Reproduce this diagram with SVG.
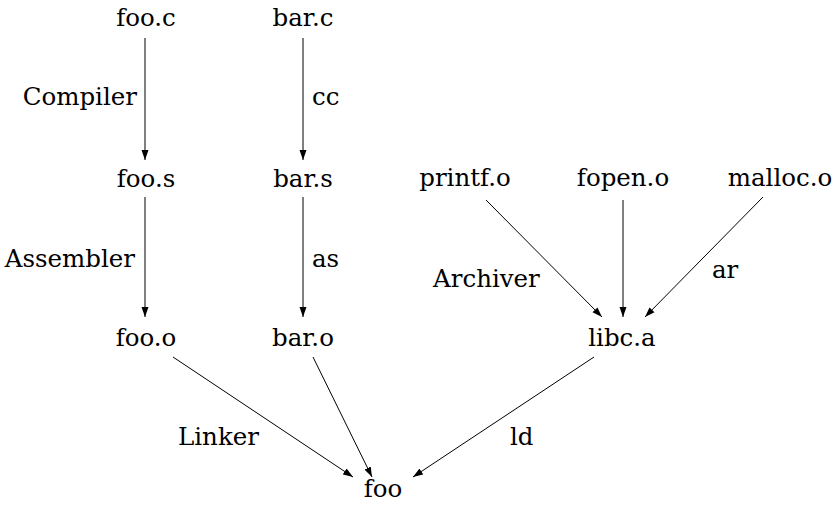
<svg xmlns="http://www.w3.org/2000/svg" width="837" height="510" viewBox="0 0 837 510">
<style>
text{font-family:"DejaVu Serif","Liberation Serif",serif;font-size:24.5px;fill:#000}
.n{text-anchor:middle}
.r{text-anchor:end}
.c line{stroke:#000;stroke-width:1;marker-end:url(#ah)}
</style>
<defs>
<marker id="ah" markerWidth="11" markerHeight="8" refX="10" refY="4" orient="auto" markerUnits="userSpaceOnUse">
<path d="M0,0.5 L10,4 L0,7.5 Z" fill="#000"/>
</marker>
</defs>
<rect width="837" height="510" fill="#fff"/>
<g id="connectors" class="c">
<line x1="145" y1="38" x2="145" y2="160"/>
<line x1="303" y1="38" x2="303" y2="160"/>
<line x1="145" y1="197" x2="145" y2="317"/>
<line x1="303" y1="197" x2="303" y2="317"/>
<line x1="486" y1="200" x2="602" y2="317"/>
<line x1="623" y1="200" x2="623" y2="317"/>
<line x1="763" y1="197" x2="645" y2="317"/>
<line x1="173" y1="357" x2="353" y2="477"/>
<line x1="313" y1="357" x2="372" y2="477"/>
<line x1="594" y1="357" x2="413" y2="477"/>
</g>
<g id="labels">
<text class="r" x="137" y="105">Compiler</text>
<text x="312" y="105">cc</text>
<text class="r" x="135" y="267">Assembler</text>
<text x="312" y="267">as</text>
<text x="433" y="287">Archiver</text>
<text x="712" y="278">ar</text>
<text x="178" y="445">Linker</text>
<text x="510" y="445">ld</text>
</g>
<g id="foo_c"><text class="n" x="146" y="26">foo.c</text></g>
<g id="bar_c"><text class="n" x="303" y="26">bar.c</text></g>
<g id="foo_s"><text class="n" x="146" y="187">foo.s</text></g>
<g id="bar_s"><text class="n" x="303" y="187">bar.s</text></g>
<g id="foo_o"><text class="n" x="146" y="346">foo.o</text></g>
<g id="bar_o"><text class="n" x="303" y="346">bar.o</text></g>
<g id="printf_o"><text class="n" x="465" y="186">printf.o</text></g>
<g id="fopen_o"><text class="n" x="623" y="186">fopen.o</text></g>
<g id="malloc_o"><text class="n" x="780" y="186">malloc.o</text></g>
<g id="libc_a"><text class="n" x="622" y="346">libc.a</text></g>
<g id="foo"><text class="n" x="383" y="497">foo</text></g>
</svg>
